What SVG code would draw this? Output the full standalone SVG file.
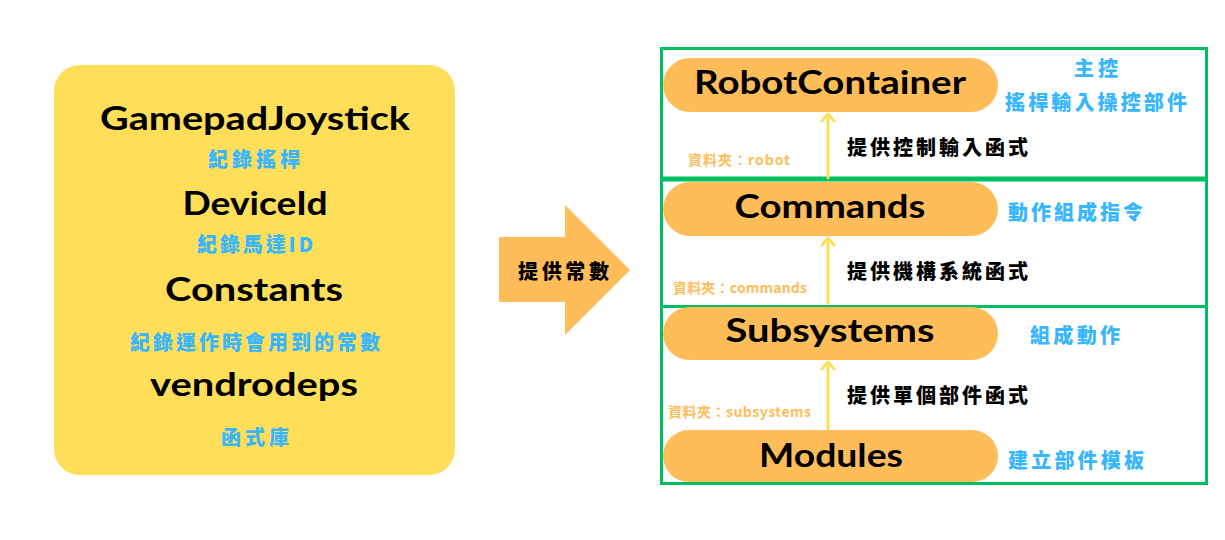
<svg xmlns="http://www.w3.org/2000/svg" width="1225" height="540" viewBox="0 0 1225 540">
<style>
.en{font-family:"Lato","Noto Sans",sans-serif;font-weight:700;font-size:32px;fill:#000;text-anchor:middle}
.blue{font-family:"Noto Sans CJK TC","Noto Sans",sans-serif;font-weight:900;font-size:20px;fill:#38B6FF}
.blk{font-family:"Noto Sans CJK TC","Noto Sans",sans-serif;font-weight:900;font-size:20px;fill:#000}
.org{font-family:"Noto Sans CJK TC","Noto Sans",sans-serif;font-weight:700;font-size:14px;fill:#FFBD59}
.pill{fill:#FFBD59}
.frame{fill:none;stroke:#00BF63;stroke-width:3}
.conn{stroke:#FFDE59;stroke-width:3;fill:none;stroke-linecap:round;stroke-linejoin:round}
</style>
<rect width="1225" height="540" fill="#fff"/>
<g id="constants-box">
<rect x="54" y="65" width="401" height="410" rx="26" fill="#FFDE59"/>
<text class="en" x="255" y="130" textLength="310" lengthAdjust="spacingAndGlyphs">GamepadJoystick</text>
<text class="blue" x="208" y="166.5" textLength="92">紀錄搖桿</text>
<text class="en" x="255" y="215" textLength="145" lengthAdjust="spacingAndGlyphs">DeviceId</text>
<text class="blue" x="197" y="251.5" textLength="116">紀錄馬達ID</text>
<text class="en" x="254" y="301" textLength="178" lengthAdjust="spacingAndGlyphs">Constants</text>
<text class="blue" x="130" y="349.5" textLength="250">紀錄運作時會用到的常數</text>
<text class="en" x="254" y="396" textLength="208" lengthAdjust="spacingAndGlyphs">vendrodeps</text>
<text class="blue" x="221" y="445" textLength="68">函式庫</text>
</g>
<g id="big-arrow">
<polygon points="499,237 565,237 565,205 630,270 565,335 565,302 499,302" fill="#FFBD59"/>
<text class="blk" x="518" y="278.5" textLength="91">提供常數</text>
</g>
<g id="frames">
<rect class="frame" x="661.5" y="48.5" width="545" height="131"/>
<rect class="frame" x="661.5" y="179.5" width="545" height="127"/>
<rect class="frame" x="661.5" y="306.5" width="545" height="177"/>
<line x1="661" y1="179" x2="1208" y2="179" stroke="#00BF63" stroke-width="5"/>
</g>
<g id="connectors">
<line class="conn" x1="828" y1="178" x2="828" y2="115"/>
<polyline class="conn" points="822,121 828,114 834,121"/>
<line class="conn" x1="828" y1="303" x2="828" y2="239"/>
<polyline class="conn" points="822,245 828,238 834,245"/>
<line class="conn" x1="828" y1="429" x2="828" y2="363"/>
<polyline class="conn" points="822,369 828,362 834,369"/>
<text class="blk" x="847" y="154.5" textLength="181">提供控制輸入函式</text>
<text class="blk" x="847" y="278.5" textLength="181">提供機構系統函式</text>
<text class="blk" x="847" y="402.5" textLength="181">提供單個部件函式</text>
</g>
<g id="robotcontainer">
<rect class="pill" x="663" y="58" width="335" height="54" rx="27"/>
<text class="en" x="830" y="94" textLength="272" lengthAdjust="spacingAndGlyphs">RobotContainer</text>
<text class="blue" x="1074" y="75.5" textLength="44">主控</text>
<text class="blue" x="1005" y="109.5" textLength="182">搖桿輸入操控部件</text>
<text class="org" x="688" y="165" textLength="102">資料夾：robot</text>
</g>
<g id="commands">
<rect class="pill" x="663" y="182" width="335" height="54" rx="27"/>
<text class="en" x="830" y="218" textLength="191" lengthAdjust="spacingAndGlyphs">Commands</text>
<text class="blue" x="1008" y="219.5" textLength="135">動作組成指令</text>
<text class="org" x="673" y="293" textLength="134">資料夾：commands</text>
</g>
<g id="subsystems">
<rect class="pill" x="663" y="307" width="335" height="53" rx="26.5"/>
<text class="en" x="830" y="342" textLength="209" lengthAdjust="spacingAndGlyphs">Subsystems</text>
<text class="blue" x="1030" y="342.5" textLength="90">組成動作</text>
<text class="org" x="668" y="417" textLength="143">資料夾：subsystems</text>
</g>
<g id="modules">
<rect class="pill" x="663" y="430" width="335" height="52" rx="26"/>
<text class="en" x="831" y="467" textLength="144" lengthAdjust="spacingAndGlyphs">Modules</text>
<text class="blue" x="1008" y="467.5" textLength="136">建立部件模板</text>
</g>
</svg>
